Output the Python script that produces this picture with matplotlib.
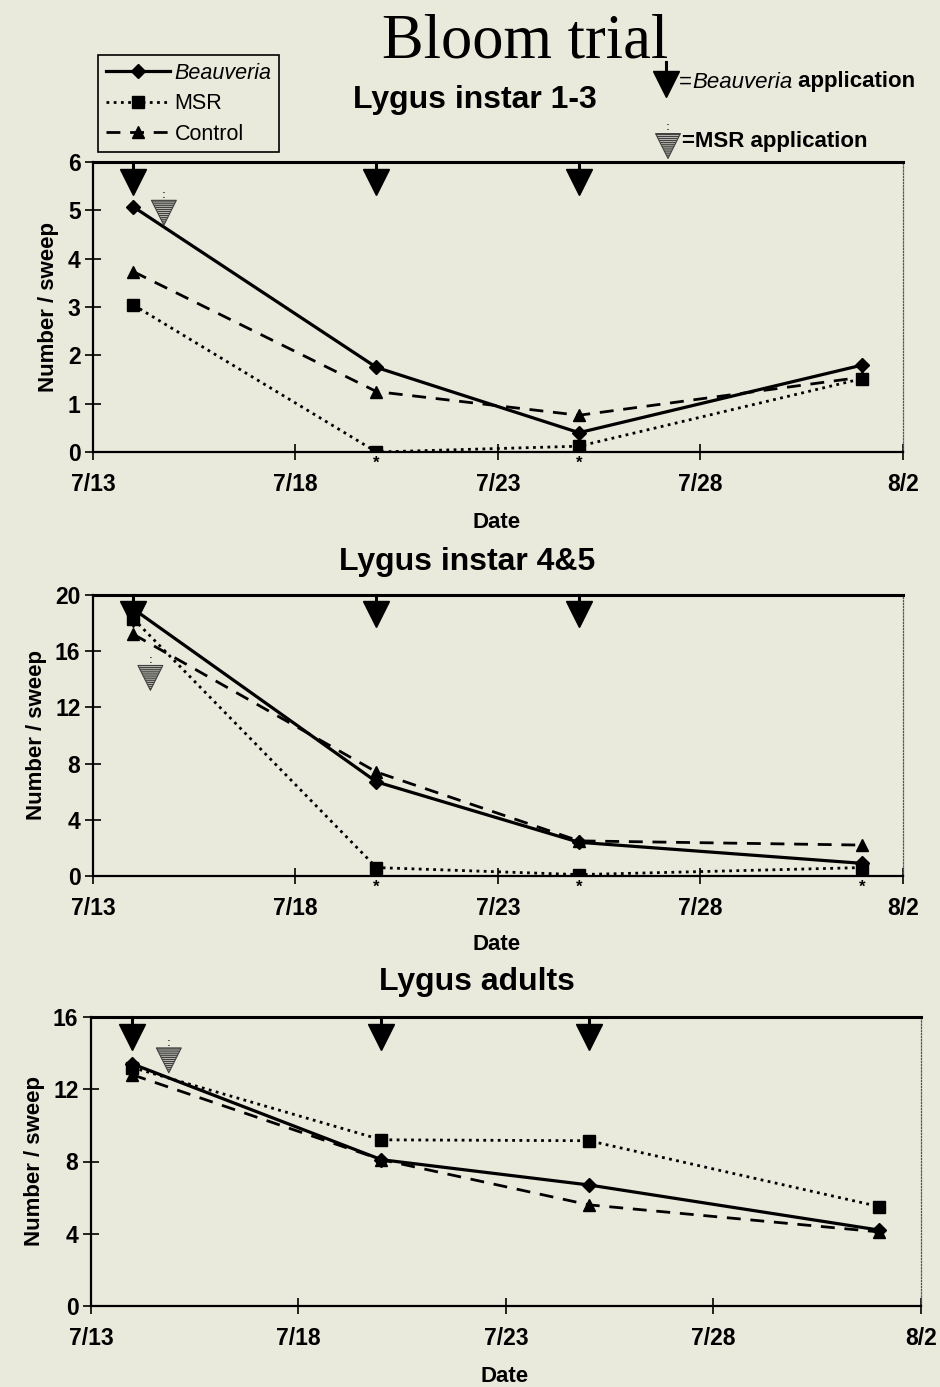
import matplotlib
matplotlib.use("Agg")
import matplotlib.pyplot as plt
import matplotlib.transforms as mtransforms
import pandas as pd
import numpy as np

plt.rcParams['font.family'] = ['Liberation Sans', 'DejaVu Sans']

# ---------------- data ----------------
sample_dates = pd.to_datetime(['2000-07-14', '2000-07-20', '2000-07-25', '2000-08-01'])
beauveria_app_dates = pd.to_datetime(['2000-07-14', '2000-07-20', '2000-07-25'])
tick_dates = pd.to_datetime(['2000-07-13', '2000-07-18', '2000-07-23', '2000-07-28', '2000-08-02'])
tick_labels = ['7/13', '7/18', '7/23', '7/28', '8/2']

panel_titles = ['Lygus instar 1-3', 'Lygus instar 4&5', 'Lygus adults']

# panel 1: Lygus instar 1-3
p1_beauveria = [5.07, 1.75, 0.40, 1.80]
p1_msr = [3.04, 0.00, 0.12, 1.52]
p1_control = [3.73, 1.25, 0.76, 1.55]
# panel 2: Lygus instar 4&5
p2_beauveria = [19.0, 6.7, 2.4, 0.9]
p2_msr = [18.3, 0.6, 0.1, 0.6]
p2_control = [17.2, 7.4, 2.5, 2.2]
# panel 3: Lygus adults
p3_beauveria = [13.4, 8.1, 6.7, 4.2]
p3_msr = [13.2, 9.2, 9.15, 5.5]
p3_control = [12.8, 8.1, 5.6, 4.1]

# MSR application symbol (date, value) per panel
msr_app_dates = pd.to_datetime(['2000-07-14 18:00', '2000-07-14 10:00', '2000-07-14 21:00'])
msr_app_values = [4.95, 14.1, 13.6]

# significance asterisks (MSR) per panel: sample index list
sig_idx = [[1, 2], [1, 2, 3], []]

y_max = [6, 20, 16]
y_step = [1, 4, 4]

series = [
    (p1_beauveria, p1_msr, p1_control),
    (p2_beauveria, p2_msr, p2_control),
    (p3_beauveria, p3_msr, p3_control),
]

# ---------------- figure ----------------
W, H = 940, 1387
BG = '#E9E9DC'
fig = plt.figure(figsize=(W / 100, H / 100), dpi=100, facecolor=BG)

def px_rect(l, t, r, b):
    return [l / W, 1 - b / H, (r - l) / W, (b - t) / H]

rects = [px_rect(93, 162, 903, 452), px_rect(93, 595, 903, 876), px_rect(91, 1017, 921, 1306)]
title_pos = [(475, 100), (467, 562), (477, 982)]
date_pos = [(497, 523), (497, 945), (505, 1376)]

line_styles = dict(
    beauveria=dict(color='black', lw=2.3, ls='-', marker='D', ms=7.5),
    msr=dict(color='black', lw=2.0, ls=(0, (1, 1.6)), marker='s', ms=8.5),
    control=dict(color='black', lw=2.0, ls=(0, (5, 3.5)), marker='^', ms=9),
)

axes = []
for i, rect in enumerate(rects):
    ax = fig.add_axes(rect)
    ax.set_facecolor(BG)
    b, m, c = series[i]
    hb, = ax.plot(sample_dates, b, label='Beauveria', **line_styles['beauveria'])
    hm, = ax.plot(sample_dates, m, label='MSR', **line_styles['msr'])
    hc, = ax.plot(sample_dates, c, label='Control', **line_styles['control'])
    ax.set_xlim(tick_dates[0], tick_dates[-1])
    ax.set_ylim(0, y_max[i])
    ax.set_yticks(np.arange(0, y_max[i] + 0.01, y_step[i]))
    ax.set_xticks(tick_dates)
    ax.set_xticklabels(tick_labels)
    ax.tick_params(axis='x', direction='inout', length=12, width=1.2, pad=9, labelsize=16.5)
    ax.tick_params(axis='y', direction='inout', length=12, width=1.2, pad=3, labelsize=16.5)
    for lbl in ax.get_xticklabels() + ax.get_yticklabels():
        lbl.set_fontweight('bold')
    for sp in ['left', 'bottom']:
        ax.spines[sp].set_linewidth(1.6)
    ax.spines['top'].set_linewidth(2.2)
    ax.spines['right'].set_linestyle((0, (1, 1.5)))
    ax.spines['right'].set_linewidth(0.9)
    ax.spines['right'].set_color('#555555')
    ax.set_ylabel('Number / sweep', fontsize=16, fontweight='heavy', labelpad=6)

    # Beauveria application arrows
    blend = mtransforms.blended_transform_factory(ax.transData, ax.transAxes)
    for d in beauveria_app_dates:
        ax.plot([d, d], [1.0, 0.93], transform=blend, color='black', lw=2.2, clip_on=False)
        ax.plot([d], [0.932], transform=blend, marker='v', ms=19, color='black', clip_on=False)

    # MSR application symbol
    ax.scatter([msr_app_dates[i]], [msr_app_values[i]], marker='v', s=320,
               facecolor='none', edgecolor='#404040', hatch='--------', linewidth=0.8, zorder=4)
    ax.annotate(':', xy=(msr_app_dates[i], msr_app_values[i]), xytext=(0, 9),
                textcoords='offset points', ha='center', va='bottom', fontsize=8,
                color='#404040', fontweight='bold')

    # significance asterisks
    for k in sig_idx[i]:
        ax.annotate('*', xy=(sample_dates[k], 0), xytext=(0, -3), textcoords='offset points',
                    ha='center', va='top', fontsize=12, fontweight='bold', annotation_clip=False)
    axes.append(ax)
    if i == 0:
        handles = [hb, hm, hc]

    fig.text(title_pos[i][0] / W, 1 - title_pos[i][1] / H, panel_titles[i],
             ha='center', va='center', fontsize=23, fontweight='bold')
    fig.text(date_pos[i][0] / W, 1 - date_pos[i][1] / H, 'Date',
             ha='center', va='center', fontsize=16, fontweight='bold')

# main title
fig.text(525 / W, 1 - 42 / H, 'Bloom trial', ha='center', va='center',
         fontsize=45, family=['Liberation Serif', 'DejaVu Serif'])

# legend
leg = fig.legend(handles=handles, labels=['Beauveria', 'MSR', 'Control'],
                 loc='upper left', bbox_to_anchor=(98 / W, 1 - 55 / H),
                 fontsize=15.5, frameon=True, fancybox=False, edgecolor='black',
                 facecolor=BG, framealpha=1, handlelength=3.0, handletextpad=0.2,
                 labelspacing=0.45, borderpad=0.35, borderaxespad=0)
leg.get_frame().set_linewidth(1.2)
leg.get_texts()[0].set_style('italic')

# overlay for application key
ov = fig.add_axes([0, 0, 1, 1])
ov.set_xlim(0, W)
ov.set_ylim(H, 0)
ov.axis('off')
ov.patch.set_alpha(0)
ov.plot([666, 666], [62, 74], color='black', lw=2.2)
ov.plot([666], [84], marker='v', ms=19, color='black')
t1 = ov.text(679, 82, '=', ha='left', va='center', fontsize=16)
t2 = ov.annotate('Beauveria', xy=(1, 0), xycoords=t1, ha='left', va='bottom',
                 fontsize=16, style='italic')
ov.annotate(' application', xy=(1, 0), xycoords=t2, ha='left', va='bottom',
            fontsize=16, fontweight='bold')
ov.scatter([668], [146], marker='v', s=320, facecolor='none', edgecolor='#404040',
           hatch='--------', linewidth=0.8)
ov.text(668, 132, ':', ha='center', va='bottom', fontsize=8, color='#404040', fontweight='bold')
ov.text(682, 141, '=MSR application', ha='left', va='center', fontsize=16, fontweight='bold')

fig.savefig('out.png', dpi=100, facecolor=BG)
